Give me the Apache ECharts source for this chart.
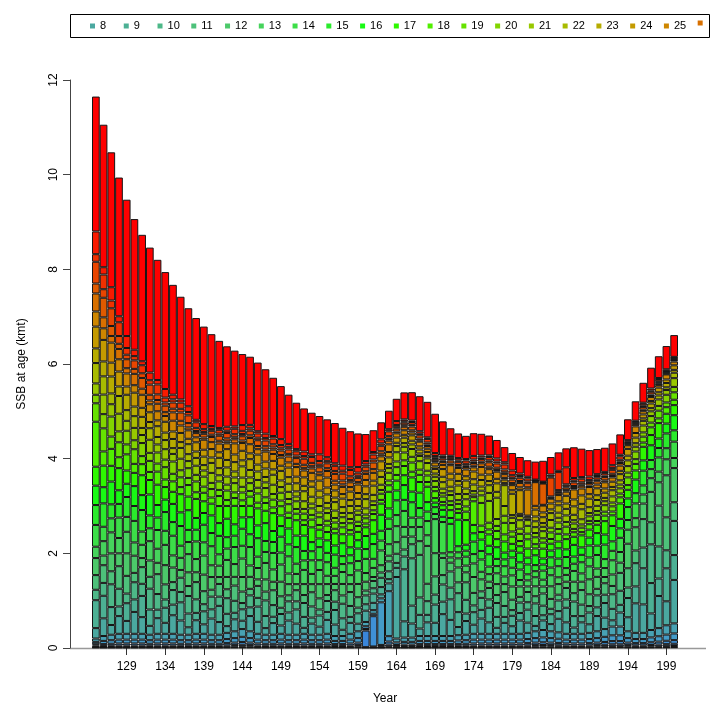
<!DOCTYPE html>
<html>
<head>
<meta charset="utf-8">
<title>SSB at age</title>
<script src="https://cdn.jsdelivr.net/npm/echarts@6/dist/echarts.min.js"></script>
<style>
html, body { margin: 0; padding: 0; background: #fff; }
#chart { width: 720px; height: 720px; }
</style>
</head>
<body>
<div id="chart"></div>
<script>
var years = ['125','126','127','128','129','130','131','132','133','134',
	'135','136','137','138','139','140','141','142','143','144',
	'145','146','147','148','149','150','151','152','153','154',
	'155','156','157','158','159','160','161','162','163','164',
	'165','166','167','168','169','170','171','172','173','174',
	'175','176','177','178','179','180','181','182','183','184',
	'185','186','187','188','189','190','191','192','193','194',
	'195','196','197','198','199','200'];

var ages = [2,3,4,5,6,7,8,9,10,11,12,13,14,15,16,17,18,19,20,21,22,23,24,25,26,27,28,29,30,31];
var legendAges = ['8','9','10','11','12','13','14','15','16','17','18','19','20','21','22','23','24','25','26'];

// SSB (kmt) by age, one value per year 125..200
var age2 = [.01,.008,.008,.009,.009,.009,.009,.008,.009,.009,
	.009,.008,.008,.009,.009,.008,.008,.01,.011,.012,
	.011,.009,.008,.008,.009,.008,.008,.009,.008,.008,
	.009,.008,.008,.009,.011,.007,.006,.006,.013,.006,
	.007,.007,.008,.008,.008,.008,.008,.008,.008,.009,
	.009,.009,.009,.009,.009,.009,.01,.011,.011,.011,
	.01,.009,.009,.009,.01,.011,.012,.014,.014,.011,
	.01,.01,.011,.013,.014,.016];
var age3 = [.01,.013,.014,.015,.015,.015,.015,.014,.015,.015,
	.015,.014,.014,.015,.015,.014,.014,.016,.018,.02,
	.018,.015,.014,.014,.015,.014,.014,.015,.014,.014,
	.015,.013,.013,.015,.018,.011,.009,.01,.021,.01,
	.011,.011,.013,.013,.013,.013,.013,.014,.014,.015,
	.015,.015,.015,.015,.015,.015,.016,.018,.019,.018,
	.017,.015,.015,.015,.016,.018,.02,.023,.023,.018,
	.016,.016,.019,.021,.024,.026];
var age4 = [.03,.023,.025,.027,.027,.027,.027,.025,.027,.027,
	.027,.025,.025,.027,.027,.025,.025,.029,.032,.036,
	.032,.027,.025,.025,.027,.025,.025,.027,.025,.025,
	.027,.023,.023,.027,.032,.35,.017,.018,.038,.018,
	.02,.02,.023,.023,.023,.023,.023,.024,.025,.027,
	.027,.027,.027,.027,.027,.027,.029,.032,.034,.032,
	.03,.027,.027,.027,.029,.032,.036,.041,.041,.032,
	.029,.029,.034,.038,.043,.047];
var age5 = [.03,.038,.042,.045,.045,.045,.045,.042,.045,.045,
	.045,.042,.042,.045,.045,.042,.042,.048,.053,.06,
	.053,.045,.042,.042,.045,.042,.042,.045,.042,.042,
	.045,.038,.038,.045,.053,.033,.64,.031,.064,.03,
	.033,.033,.038,.038,.038,.038,.038,.041,.042,.045,
	.045,.045,.045,.045,.045,.045,.048,.053,.057,.053,
	.05,.045,.045,.045,.048,.053,.06,.068,.068,.053,
	.048,.048,.057,.063,.072,.078];
var age6 = [.05,.068,.076,.081,.081,.081,.081,.076,.081,.081,
	.081,.076,.076,.081,.081,.076,.076,.086,.095,.108,
	.095,.081,.076,.076,.081,.076,.076,.081,.076,.076,
	.081,.068,.068,.081,.095,.059,.051,.90,.114,.054,
	.059,.059,.068,.068,.068,.068,.068,.073,.076,.081,
	.081,.081,.081,.081,.081,.081,.086,.095,.103,.095,
	.089,.081,.081,.081,.086,.095,.108,.122,.122,.095,
	.086,.086,.103,.113,.13,.14];
var age7 = [.07,.103,.115,.123,.123,.123,.123,.115,.123,.123,
	.123,.115,.115,.123,.123,.115,.115,.131,.144,.164,
	.144,.123,.115,.115,.123,.115,.115,.123,.115,.115,
	.123,.103,.103,.123,.144,.09,.077,.084,.95,.082,
	.09,.09,.103,.103,.103,.103,.103,.111,.115,.123,
	.123,.123,.123,.123,.123,.123,.131,.144,.156,.144,
	.135,.123,.123,.123,.131,.144,.164,.185,.185,.144,
	.131,.131,.156,.172,.197,.213];
var age8 = [.22,.374,.206,.374,.272,.462,.352,.188,.33,.232,
	.392,.301,.158,.286,.20,.342,.268,.142,.253,.176,
	.322,.253,.14,.246,.176,.30,.235,.126,.235,.171,
	.294,.242,.132,.231,.16,.238,.154,.084,.165,1.3,
	.343,.297,.158,.289,.28,.462,.341,.172,.29,.192,
	.322,.242,.126,.231,.16,.28,.216,.114,.202,.152,
	.286,.242,.132,.242,.181,.322,.242,.132,.297,.296,
	.624,.601,.35,.678,.507,.918];
var age9 = [.59,.476,.378,.204,.374,.264,.448,.345,.18,.319,
	.224,.384,.29,.156,.275,.195,.342,.26,.138,.242,
	.184,.322,.257,.134,.242,.171,.30,.231,.128,.235,
	.168,.308,.242,.126,.22,.136,.196,.154,.09,.193,
	1.1,.378,.289,.158,.385,.264,.434,.315,.158,.264,
	.184,.308,.231,.126,.22,.16,.274,.209,.11,.209,
	.163,.308,.242,.132,.249,.184,.308,.242,.162,.407,
	.357,.764,.642,.37,.697,.525];
var age10 = [.22,.272,.482,.374,.204,.363,.256,.44,.33,.174,
	.308,.219,.37,.286,.15,.268,.195,.33,.253,.132,
	.253,.184,.328,.246,.132,.235,.171,.294,.235,.128,
	.231,.176,.308,.231,.12,.187,.112,.196,.165,.105,
	.27,1.0,.368,.289,.21,.363,.248,.40,.29,.144,
	.253,.176,.294,.231,.12,.22,.157,.266,.202,.114,
	.224,.176,.308,.242,.136,.253,.176,.308,.297,.222,
	.491,.437,.818,.678,.38,.722];
var age11 = [.31,.374,.275,.476,.374,.198,.352,.251,.42,.319,
	.168,.301,.211,.364,.275,.146,.268,.189,.322,.242,
	.138,.253,.187,.314,.242,.128,.235,.168,.30,.235,
	.126,.242,.176,.294,.22,.102,.154,.112,.21,.193,
	.147,.297,.9,.368,.385,.198,.341,.229,.37,.264,
	.138,.242,.168,.294,.22,.12,.216,.152,.258,.209,
	.122,.242,.176,.308,.249,.138,.242,.176,.378,.407,
	.268,.601,.467,.862,.697,.394];
var age12 = [.36,.204,.378,.272,.476,.363,.192,.345,.24,.406,
	.308,.164,.29,.208,.35,.268,.146,.26,.184,.308,
	.253,.138,.257,.179,.308,.235,.128,.231,.171,.30,
	.231,.132,.242,.168,.28,.187,.084,.154,.12,.245,
	.27,.162,.289,.8,.49,.363,.186,.315,.211,.336,
	.253,.132,.231,.168,.28,.22,.118,.209,.147,.266,
	.224,.132,.242,.176,.316,.253,.132,.242,.216,.518,
	.491,.328,.642,.493,.888,.722];
var age13 = [.24,.304,.444,.324,.455,.28,.28,.408,.297,.429,
	.256,.256,.384,.279,.403,.248,.24,.36,.27,.39,
	.24,.24,.348,.261,.364,.224,.216,.30,.216,.299,
	.176,.171,.252,.189,.286,.184,.192,.312,.243,.338,
	.208,.20,.30,.225,.72,.098,.11,.192,.142,.286,
	.16,.16,.228,.162,.234,.136,.128,.192,.144,.234,
	.144,.144,.228,.176,.273,.176,.189,.30,.225,.296,
	.192,.192,.288,.225,.338,.213];
var age14 = [.46,.304,.296,.432,.315,.455,.28,.272,.396,.297,
	.416,.256,.256,.372,.279,.403,.24,.24,.36,.27,
	.39,.24,.232,.348,.252,.364,.216,.20,.288,.207,
	.286,.171,.168,.252,.198,.299,.192,.208,.324,.234,
	.338,.20,.20,.30,.108,.66,.11,.128,.189,.198,
	.26,.16,.152,.216,.162,.221,.128,.128,.192,.162,
	.234,.144,.152,.235,.189,.286,.189,.20,.30,.205,
	.312,.192,.192,.30,.234,.346];
var age15 = [.42,.494,.296,.288,.42,.315,.455,.272,.264,.396,
	.288,.416,.256,.248,.372,.279,.39,.24,.24,.36,
	.27,.39,.232,.232,.336,.252,.351,.20,.192,.276,
	.198,.278,.168,.168,.264,.207,.312,.208,.216,.312,
	.234,.325,.20,.20,.144,.11,.60,.128,.126,.264,
	.18,.26,.152,.144,.216,.153,.208,.128,.128,.216,
	.162,.234,.152,.157,.252,.198,.307,.20,.20,.274,
	.216,.312,.192,.20,.312,.239];
var age16 = [.41,.342,.481,.288,.28,.42,.315,.442,.264,.264,
	.384,.288,.416,.248,.248,.372,.27,.39,.24,.24,
	.36,.27,.377,.232,.224,.336,.243,.325,.192,.184,
	.264,.193,.273,.168,.176,.276,.216,.338,.216,.208,
	.312,.225,.325,.20,.096,.147,.124,.56,.126,.176,
	.24,.18,.247,.144,.144,.204,.144,.208,.128,.144,
	.216,.162,.247,.157,.168,.264,.212,.325,.20,.182,
	.288,.216,.312,.20,.208,.319];
var age17 = [.40,.456,.333,.468,.28,.28,.42,.306,.429,.264,
	.256,.384,.288,.403,.248,.248,.36,.27,.39,.24,
	.24,.36,.261,.377,.224,.224,.324,.225,.312,.184,
	.176,.257,.189,.273,.176,.184,.288,.234,.351,.208,
	.208,.30,.225,.325,.096,.098,.165,.144,.52,.176,
	.16,.24,.171,.234,.144,.136,.192,.144,.208,.144,
	.144,.216,.171,.255,.168,.176,.283,.225,.325,.182,
	.192,.288,.216,.325,.208,.213];
var age18 = [.95,.30,.358,.23,.341,.19,.234,.17,.276,.16,
	.22,.15,.244,.14,.179,.13,.211,.124,.165,.12,
	.195,.12,.165,.12,.195,.11,.138,.10,.163,.10,
	.138,.096,.146,.09,.124,.08,.13,.08,.138,.12,
	.195,.12,.151,.10,.146,.07,.11,.08,.179,.50,
	.135,.104,.173,.15,.151,.11,.195,.09,.127,.10,
	.163,.10,.096,.068,.114,.08,.116,.08,.13,.10,
	.138,.09,.163,.10,.138,.114];
var age19 = [.39,.488,.26,.316,.21,.309,.17,.234,.17,.26,
	.16,.206,.15,.228,.13,.179,.13,.202,.12,.165,
	.12,.195,.12,.165,.12,.179,.10,.138,.10,.163,
	.10,.132,.09,.146,.09,.11,.08,.13,.10,.165,
	.12,.195,.11,.138,.09,.114,.08,.11,.11,.087,
	.48,.143,.106,.244,.11,.151,.12,.146,.092,.138,
	.10,.163,.07,.094,.07,.13,.084,.11,.08,.163,
	.10,.124,.10,.163,.10,.157];
var age20 = [.18,.30,.423,.23,.289,.19,.276,.17,.234,.16,
	.26,.15,.206,.14,.211,.13,.179,.124,.195,.12,
	.165,.12,.195,.12,.165,.11,.163,.10,.138,.10,
	.163,.096,.124,.09,.146,.08,.11,.08,.163,.12,
	.165,.12,.179,.10,.124,.07,.13,.08,.151,.054,
	.16,.46,.146,.15,.179,.11,.165,.09,.15,.10,
	.138,.10,.114,.068,.096,.08,.137,.08,.11,.10,
	.163,.09,.138,.10,.163,.114];
var age21 = [.24,.413,.26,.374,.21,.261,.17,.276,.17,.22,
	.16,.244,.15,.193,.13,.211,.13,.171,.12,.195,
	.12,.165,.12,.195,.12,.151,.10,.163,.10,.138,
	.10,.156,.09,.124,.09,.13,.08,.11,.10,.195,
	.12,.165,.11,.163,.09,.096,.08,.13,.11,.074,
	.098,.169,.45,.206,.11,.179,.12,.124,.092,.163,
	.10,.138,.07,.11,.07,.11,.084,.13,.08,.138,
	.10,.146,.10,.138,.10,.185];
var age22 = [.43,.385,.228,.374,.225,.248,.149,.244,.158,.193,
	.123,.228,.146,.165,.114,.211,.151,.193,.126,.237,
	.158,.179,.114,.211,.14,.171,.109,.211,.146,.179,
	.114,.179,.124,.151,.096,.195,.135,.165,.088,.13,
	.079,.096,.053,.098,.068,.138,.096,.179,.117,.138,
	.088,.163,.124,.44,.058,.087,.03,.124,.079,.146,
	.108,.138,.114,.211,.124,.124,.07,.13,.09,.121,
	.075,.098,.068,.083,.058,.114];
var age23 = [.31,.315,.358,.201,.325,.203,.234,.131,.228,.158,
	.193,.123,.211,.135,.179,.114,.218,.158,.198,.128,
	.228,.146,.179,.114,.202,.14,.171,.114,.211,.146,
	.179,.096,.179,.124,.151,.105,.195,.135,.138,.07,
	.114,.079,.083,.053,.098,.113,.151,.096,.169,.113,
	.138,.088,.179,.048,.45,.047,.043,.101,.124,.079,
	.156,.113,.179,.114,.179,.101,.11,.07,.13,.099,
	.118,.053,.098,.068,.091,.061];
var age24 = [.46,.455,.293,.316,.175,.293,.191,.206,.123,.228,
	.158,.193,.114,.195,.146,.179,.117,.228,.162,.201,
	.123,.211,.146,.179,.109,.202,.14,.179,.114,.211,
	.146,.151,.096,.179,.124,.165,.105,.195,.113,.11,
	.061,.114,.068,.083,.053,.163,.124,.151,.091,.163,
	.113,.138,.096,.069,.075,.50,.023,.146,.101,.124,
	.084,.163,.146,.179,.096,.146,.09,.11,.07,.143,
	.097,.083,.053,.098,.074,.096];
var age25 = [.32,.245,.423,.259,.275,.158,.276,.169,.193,.123,
	.228,.158,.179,.105,.211,.146,.184,.123,.234,.164,
	.193,.114,.211,.146,.171,.109,.202,.146,.179,.114,
	.211,.124,.151,.096,.179,.135,.165,.105,.163,.09,
	.096,.061,.098,.068,.083,.088,.179,.124,.143,.088,
	.163,.113,.151,.037,.108,.06,.55,.079,.146,.101,
	.132,.088,.211,.146,.151,.079,.13,.09,.11,.077,
	.14,.068,.083,.053,.107,.079];
var age26 = [.38,.232,.14,.218,.111,.24,.128,.08,.158,.08,
	.176,.099,.061,.089,.046,.109,.059,.042,.086,.053,
	.131,.068,.046,.091,.055,.125,.068,.048,.094,.062,
	.138,.081,.054,.101,.052,.128,.079,.043,.077,.036,
	.074,.045,.026,.058,.028,.064,.036,.025,.053,.034,
	.077,.052,.034,.079,.043,.093,.049,.50,.015,.018,
	.048,.032,.029,.058,.031,.07,.04,.031,.055,.015,
	.038,.032,.022,.036,.015,.032];
var age27 = [.21,.413,.211,.109,.19,.105,.227,.121,.079,.137,
	.077,.176,.092,.044,.079,.048,.106,.063,.043,.091,
	.057,.122,.068,.046,.094,.055,.122,.072,.047,.106,
	.06,.144,.081,.05,.089,.056,.141,.065,.038,.062,
	.032,.08,.04,.029,.048,.028,.064,.038,.026,.058,
	.034,.093,.05,.04,.074,.041,.086,.011,.45,.03,
	.021,.056,.043,.029,.053,.031,.07,.047,.028,.026,
	.017,.058,.032,.018,.026,.014];
var age28 = [.46,.181,.374,.164,.095,.18,.099,.214,.119,.068,
	.132,.077,.163,.067,.04,.082,.046,.112,.065,.046,
	.098,.053,.122,.068,.047,.094,.053,.128,.07,.053,
	.103,.063,.144,.076,.044,.096,.062,.115,.058,.031,
	.055,.035,.07,.043,.024,.048,.028,.067,.04,.029,
	.058,.041,.09,.059,.037,.07,.038,.02,.011,.40,
	.036,.025,.077,.043,.026,.053,.031,.083,.041,.013,
	.029,.025,.058,.027,.013,.024];
var age29 = [.16,.31,.164,.291,.142,.09,.17,.094,.211,.103,
	.066,.132,.071,.118,.059,.041,.079,.049,.115,.068,
	.049,.091,.053,.122,.07,.047,.091,.056,.125,.079,
	.052,.108,.063,.134,.067,.048,.106,.05,.102,.047,
	.028,.06,.031,.077,.036,.024,.048,.029,.07,.043,
	.029,.07,.039,.106,.056,.035,.065,.009,.02,.023,
	.38,.042,.034,.077,.04,.026,.053,.036,.074,.02,
	.014,.043,.025,.048,.02,.012];
var age30 = [.48,.155,.281,.127,.253,.135,.085,.161,.092,.182,
	.099,.066,.122,.052,.106,.061,.04,.084,.05,.122,
	.074,.046,.091,.053,.125,.07,.046,.096,.055,.141,
	.077,.054,.108,.059,.118,.072,.053,.086,.045,.083,
	.041,.03,.053,.034,.064,.036,.024,.05,.031,.077,
	.043,.035,.067,.046,.099,.052,.032,.015,.009,.04,
	.027,.36,.058,.034,.07,.04,.026,.062,.032,.035,
	.022,.022,.043,.021,.035,.018];
// plus group
var age31 = [2.85,3.01,2.85,2.93,2.88,2.76,2.67,2.64,2.54,2.47,
	2.32,2.17,2.07,2.15,2.06,1.94,1.84,1.70,1.60,1.50,
	1.44,1.45,1.36,1.23,1.12,1.04,.98,.91,.88,.81,
	.80,.85,.80,.76,.71,.57,.46,.36,.39,.47,
	.57,.60,.74,.75,.83,.72,.58,.52,.49,.48,
	.46,.42,.39,.32,.37,.35,.35,.38,.44,.37,
	.39,.40,.65,.60,.56,.53,.51,.46,.43,.44,
	.41,.42,.44,.46,.49,.46];

var ssbAtAge = [age2, age3, age4, age5, age6, age7, age8, age9, age10, age11,
	age12, age13, age14, age15, age16, age17, age18, age19, age20, age21,
	age22, age23, age24, age25, age26, age27, age28, age29, age30, age31];

var ageColors = ['#2f6fd6','#3479d8','#3a86da','#3f91d6','#449bc8','#48a2b4',
	'#4aa8a0','#4cb094','#4db888','#4dc17a','#4cc96a','#46d35c','#3cde48',
	'#2aeb2c','#18fa14','#2ef800','#50ef00','#66e200','#82d500','#98c800',
	'#a8bb00','#b6ac00','#c49a00','#ce8600','#d87000','#e05a00','#e84500',
	'#f03000','#f81a00','#ff0000'];

var font = 'Liberation Sans, Arial, sans-serif';

var chart = echarts.init(document.getElementById('chart'));

function showYearLabel(index, value) {
	return (Number(value) - 129) % 5 === 0;
}

var series = [];
for (var i = 0; i < ages.length; i++) {
	series.push({
		name: String(ages[i]),
		type: 'bar',
		stack: 'ssb',
		data: ssbAtAge[i],
		barCategoryGap: '0%',
		itemStyle: {
			color: ageColors[i],
			borderColor: '#151515',
			borderWidth: 1
		},
		emphasis: { disabled: true }
	});
}

// one legend per age so every entry gets the same slot width, as in the original
var legends = [];
for (var k = 0; k < legendAges.length; k++) {
	legends.push({
		data: [legendAges[k]],
		left: 90 + k * 33.76,
		top: 20.5,
		padding: 0,
		icon: 'rect',
		itemWidth: 5,
		itemHeight: 5,
		selectedMode: false,
		itemStyle: { borderWidth: 0 },
		formatter: function (name) {
			return name === '26' ? '' : name;
		},
		textStyle: { color: '#000', fontSize: 11, fontFamily: font }
	});
}

var option = {
	animation: false,
	backgroundColor: '#fff',
	textStyle: { fontFamily: font },
	grid: {
		left: 92,
		right: 42,
		top: 80,
		bottom: 72
	},
	legend: legends,
	xAxis: {
		type: 'category',
		data: years,
		name: 'Year',
		nameLocation: 'middle',
		nameGap: 45,
		nameTextStyle: { fontSize: 12, color: '#000', fontFamily: font },
		axisLine: { show: false },
		axisTick: {
			show: true,
			alignWithLabel: true,
			interval: showYearLabel,
			length: 7,
			lineStyle: { color: '#333' }
		},
		axisLabel: {
			interval: showYearLabel,
			margin: 13,
			fontSize: 12,
			color: '#000',
			fontFamily: font
		}
	},
	yAxis: {
		type: 'value',
		min: 0,
		max: 12,
		interval: 2,
		offset: 22,
		name: 'SSB at age (kmt)',
		nameLocation: 'middle',
		nameGap: 42,
		nameRotate: 90,
		nameTextStyle: { fontSize: 12, color: '#000', fontFamily: font },
		axisLine: { show: true, lineStyle: { color: '#444' } },
		axisTick: { show: true, length: 7, lineStyle: { color: '#444' } },
		axisLabel: {
			rotate: 90,
			margin: 10,
			fontSize: 12,
			color: '#000',
			fontFamily: font
		},
		splitLine: { show: false }
	},
	graphic: [
		{
			type: 'rect',
			z: 100,
			shape: { x: 70.5, y: 14.5, width: 639, height: 23 },
			style: { fill: 'none', stroke: '#000', lineWidth: 1 }
		},
		{
			type: 'line',
			z: 0,
			shape: { x1: 70, y1: 648.5, x2: 706, y2: 648.5 },
			style: { stroke: '#999', lineWidth: 1.5 }
		}
	],
	series: series
};

chart.setOption(option);
</script>
</body>
</html>
